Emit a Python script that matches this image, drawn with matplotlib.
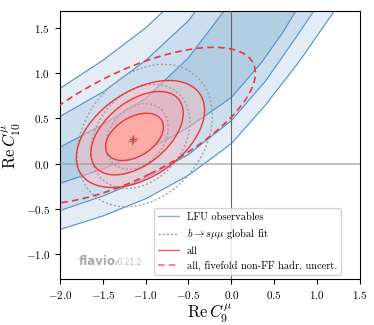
import numpy as np
import matplotlib
matplotlib.use('Agg')
import matplotlib.pyplot as plt
from matplotlib.patches import Ellipse, Polygon
from matplotlib.lines import Line2D

plt.rcParams['font.family'] = 'serif'
plt.rcParams['font.serif'] = ['cmr10']
plt.rcParams['mathtext.fontset'] = 'cm'
plt.rcParams['axes.formatter.use_mathtext'] = True
plt.rcParams['axes.unicode_minus'] = True

# LFU observables: band boundaries (upper-left to lower-right)
l1_x = [-2.0, -1.5, -1.0, -0.775]
l1_y = [0.83, 1.14, 1.50, 1.70]
l2_x = [-2.0, -1.5, -1.0, -0.5, -0.405]
l2_y = [0.52, 0.79, 1.14, 1.58, 1.70]
l3_x = [-2.0, -1.5, -1.0, -0.5, -0.075]
l3_y = [0.18, 0.43, 0.72, 1.17, 1.70]
l4_x = [-2.0, -1.5, -1.0, -0.5, 0.0, 0.35, 0.6, 0.76]
l4_y = [-0.22, -0.06, 0.14, 0.40, 0.73, 1.115, 1.45, 1.70]
l5_x = [-2.0, -1.5, -1.0, -0.5, 0.0, 0.4, 0.75, 0.97]
l5_y = [-0.52, -0.36, -0.16, 0.10, 0.475, 0.915, 1.39, 1.70]
l6_x = [-2.0, -1.5, -1.0, -0.5, 0.0, 0.4, 0.8, 1.21]
l6_y = [-0.73, -0.58, -0.39, -0.13, 0.22, 0.65, 1.14, 1.70]

# "all": 1, 2, 3 sigma contours (centre, semi-axes, tilt)
all_cx = [-1.13, -1.10, -1.06]
all_cy = [0.295, 0.336, 0.327]
all_a = [0.367, 0.614, 0.823]
all_b = [0.219, 0.355, 0.482]
all_ang = [29, 36, 31]

# b -> s mu mu global fit: 1, 2, 3 sigma contours
bsmm_cx = [-1.10, -1.06, -1.01]
bsmm_cy = [0.30, 0.30, 0.31]
bsmm_a = [0.41, 0.65, 0.89]
bsmm_b = [0.31, 0.49, 0.67]
bsmm_ang = [45, 45, 45]

# all, fivefold non-FF hadronic uncertainty
ff5_cx, ff5_cy, ff5_a, ff5_b, ff5_ang = -1.2, 0.42, 1.61, 0.59, 25

best_all = (-1.145, 0.273)
best_bsmm = (-1.163, 0.254)

blue_line = '#4f8fcf'
blue_fill = ['#b3cde3', '#ccdeed', '#e4edf6']
red_line = '#e8383d'
red_fill = ['#ffaaa0', '#faa0aa', '#ffbec3']
red_alpha = [0.88, 0.35, 0.45]
grey = '#a0a0a0'

fig = plt.figure(figsize=(3.74, 3.25), dpi=100)
ax = fig.add_axes([0.160, 0.1406, 0.8026, 0.8264])

lines = [(l1_x, l1_y), (l2_x, l2_y), (l3_x, l3_y),
         (l4_x, l4_y), (l5_x, l5_y), (l6_x, l6_y)]

# filled bands: outer (3 sigma) first, 1 sigma on top
for i in [2, 1, 0]:
    ux, uy = lines[2 - i]
    lx, ly = lines[3 + i]
    pts = list(zip(ux, uy)) + list(zip(lx, ly))[::-1]
    ax.add_patch(Polygon(pts, closed=True, facecolor=blue_fill[i],
                         edgecolor='none', zorder=1))
for x, y in lines:
    ax.plot(x, y, color=blue_line, lw=0.8, zorder=2)

# filled "all" contours
for i in [2, 1, 0]:
    ax.add_patch(Ellipse((all_cx[i], all_cy[i]), 2 * all_a[i], 2 * all_b[i],
                         angle=all_ang[i], facecolor=red_fill[i],
                         alpha=red_alpha[i], edgecolor='none', zorder=3))

ax.axhline(0, color='#999999', lw=1.4, alpha=0.6, zorder=3.5)
ax.axvline(0, color='#666666', lw=0.8, zorder=3.5)

for i in range(3):
    ax.add_patch(Ellipse((all_cx[i], all_cy[i]), 2 * all_a[i], 2 * all_b[i],
                         angle=all_ang[i], facecolor='none',
                         edgecolor=red_line, lw=1.0, zorder=5))
    ax.add_patch(Ellipse((bsmm_cx[i], bsmm_cy[i]), 2 * bsmm_a[i], 2 * bsmm_b[i],
                         angle=bsmm_ang[i], facecolor='none', edgecolor=grey,
                         lw=1.0, ls=(0, (1.5, 1.5)), zorder=4))

ax.add_patch(Ellipse((ff5_cx, ff5_cy), 2 * ff5_a, 2 * ff5_b, angle=ff5_ang,
                     facecolor='none', edgecolor=red_line, lw=1.2,
                     ls=(0, (4, 2.5)), zorder=5))

ax.plot(*best_bsmm, marker='+', color='#888888', ms=6, mew=1.0, zorder=6)
ax.plot(*best_all, marker='+', color=red_line, ms=6, mew=1.0, zorder=6)

ax.set_xlim(-2.0, 1.5)
ax.set_ylim(-1.28, 1.69)
ax.set_xticks(np.arange(-2.0, 1.51, 0.5))
ax.set_yticks(np.arange(-1.0, 1.51, 0.5))
ax.tick_params(labelsize=8)
ax.set_xlabel(r'$\mathrm{Re}\,C_9^\mu$', fontsize=12, labelpad=1)
ax.set_ylabel(r'$\mathrm{Re}\,C_{10}^\mu$', fontsize=12, labelpad=2)

handles = [
    Line2D([], [], color=blue_line, lw=1.0, alpha=0.7),
    Line2D([], [], color=grey, lw=1.0, ls=(0, (1.5, 1.5))),
    Line2D([], [], color=red_line, lw=1.0, alpha=0.8),
    Line2D([], [], color=red_line, lw=1.2, ls=(0, (4, 2.5)), alpha=0.7),
]
labels = ['LFU observables', r'$b\to s\mu\mu$ global fit', 'all',
          'all, fivefold non-FF hadr. uncert.']
ax.legend(handles, labels, loc='lower right', bbox_to_anchor=(0.955, -0.005),
          fontsize=7.5, framealpha=0.85, edgecolor='#cccccc', fancybox=True)

ax.text(0.062, 0.055, 'flavio', transform=ax.transAxes, fontsize=8.5,
        fontweight='bold', family='DejaVu Sans', color='#aaaaaa', zorder=7)
ax.text(0.18, 0.055, 'v0.21.2', transform=ax.transAxes, fontsize=5.5,
        family='DejaVu Sans', color='#bbbbbb', zorder=7)

fig.savefig('out.png', dpi=100)
